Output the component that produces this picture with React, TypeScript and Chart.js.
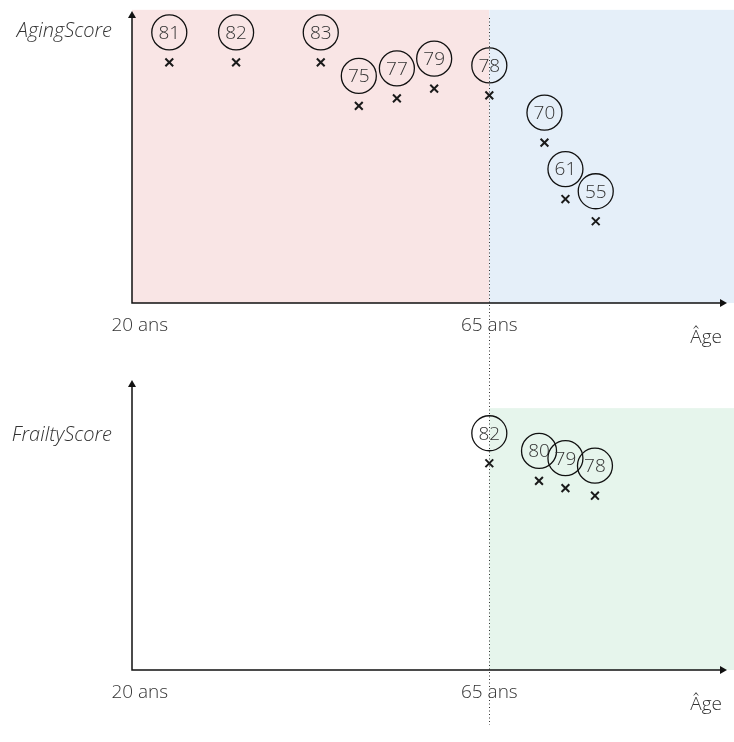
import React, { useEffect, useRef } from "react";
import { Chart, registerables } from "chart.js";

Chart.register(...registerables);

// ---- data ----
const X_MIN = 19;
const X_MAX = 96.5;
const xTickValues = [20, 65];
const xTickLabels = ["20 ans", "65 ans"];
const xAxisTitle = "Âge";
const thresholdAge = 65;

const agingAges = [23.8, 32.4, 43.3, 48.2, 53.1, 57.9, 65, 72.1, 74.8, 78.7];
const agingPositions = [82.4, 82.4, 82.4, 67.5, 70.1, 73.4, 71.1, 54.9, 35.6, 28.0];
const agingScores = [81, 82, 83, 75, 77, 79, 78, 70, 61, 55];

const frailtyAges = [65, 71.4, 74.8, 78.6];
const frailtyPositions = [71.3, 65.2, 62.7, 60.1];
const frailtyScores = [82, 80, 79, 78];

const PINK = "rgb(249,229,229)";
const BLUE = "rgb(229,239,249)";
const GREEN = "rgb(230,245,236)";

const FONT_FAMILY = "'Open Sans', 'DejaVu Sans', sans-serif";
const TEXT_COLOR = "#333";

type Region = { from: number; to: number | null; yFrom: number; yTo: number; color: string };

type Cfg = {
  yLabel: string;
  yLabelDy: number;
  regions: Region[];
  labels: number[];
  dotTopDy: number;
  dotBottom: number;
};

function makePlugin(cfg: Cfg) {
  return {
    id: "deco",
    beforeDatasetsDraw(chart: any) {
      const { ctx, chartArea: a, scales } = chart;
      const x = scales.x;
      const y = scales.y;
      ctx.save();
      // background regions
      cfg.regions.forEach((r) => {
        const x0 = x.getPixelForValue(r.from);
        const x1 = r.to == null ? chart.width : x.getPixelForValue(r.to);
        const y0 = y.getPixelForValue(r.yTo);
        const y1 = y.getPixelForValue(r.yFrom);
        ctx.fillStyle = r.color;
        ctx.fillRect(x0, y0, x1 - x0, y1 - y0);
      });
      // dotted threshold line
      const tx = Math.round(x.getPixelForValue(thresholdAge)) + 0.5;
      ctx.strokeStyle = "#333";
      ctx.lineWidth = 1;
      ctx.setLineDash([1, 2.5]);
      ctx.beginPath();
      ctx.moveTo(tx, a.top + cfg.dotTopDy);
      ctx.lineTo(tx, cfg.dotBottom);
      ctx.stroke();
      ctx.setLineDash([]);
      // axes
      ctx.strokeStyle = "#111";
      ctx.lineWidth = 1.5;
      ctx.beginPath();
      ctx.moveTo(a.left, a.bottom);
      ctx.lineTo(a.left, a.top + 6);
      ctx.moveTo(a.left - 0.75, a.bottom);
      ctx.lineTo(a.right - 13, a.bottom);
      ctx.stroke();
      ctx.fillStyle = "#111";
      ctx.beginPath();
      ctx.moveTo(a.left, a.top);
      ctx.lineTo(a.left - 4, a.top + 7);
      ctx.lineTo(a.left + 4, a.top + 7);
      ctx.closePath();
      ctx.fill();
      ctx.beginPath();
      ctx.moveTo(a.right - 7, a.bottom);
      ctx.lineTo(a.right - 14, a.bottom - 4);
      ctx.lineTo(a.right - 14, a.bottom + 4);
      ctx.closePath();
      ctx.fill();
      ctx.restore();
    },
    afterDatasetsDraw(chart: any) {
      const { ctx, chartArea: a, scales } = chart;
      const x = scales.x;
      ctx.save();
      // circled labels
      const meta = chart.getDatasetMeta(0);
      ctx.font = `300 19px ${FONT_FAMILY}`;
      ctx.textAlign = "center";
      ctx.textBaseline = "middle";
      meta.data.forEach((el: any, i: number) => {
        const cx = el.x;
        const cy = el.y - 30;
        ctx.strokeStyle = "#111";
        ctx.lineWidth = 1.3;
        ctx.beginPath();
        ctx.arc(cx, cy, 17.5, 0, Math.PI * 2);
        ctx.stroke();
        ctx.fillStyle = TEXT_COLOR;
        ctx.fillText(String(cfg.labels[i]), cx, cy + 1);
      });
      // x tick labels
      ctx.font = `300 19px ${FONT_FAMILY}`;
      ctx.fillStyle = TEXT_COLOR;
      xTickValues.forEach((v, i) => {
        ctx.textAlign = "center";
        ctx.fillText(xTickLabels[i], x.getPixelForValue(v), a.bottom + 23);
      });
      ctx.textAlign = "right";
      ctx.fillText(xAxisTitle, a.right - 12, a.bottom + 35);
      // y label
      ctx.font = `italic 300 20px ${FONT_FAMILY}`;
      ctx.textAlign = "right";
      ctx.fillText(cfg.yLabel, a.left - 20, a.top + cfg.yLabelDy);
      ctx.restore();
    },
  };
}

function ScoreChart(props: {
  ages: number[];
  positions: number[];
  cfg: Cfg;
  padTop: number;
  padBottom: number;
}) {
  const ref = useRef<HTMLCanvasElement | null>(null);
  useEffect(() => {
    if (!ref.current) return;
    const chart = new Chart(ref.current, {
      type: "scatter",
      data: {
        datasets: [
          {
            data: props.ages.map((a, i) => ({ x: a, y: props.positions[i] })),
            pointStyle: "crossRot",
            pointRadius: 5.5,
            pointBorderWidth: 2,
            borderColor: "#1a1a1a",
            backgroundColor: "#1a1a1a",
            showLine: false,
          } as any,
        ],
      },
      options: {
        responsive: false,
        animation: false,
        devicePixelRatio: 1,
        layout: {
          autoPadding: false,
          padding: { left: 132, right: 0, top: props.padTop, bottom: props.padBottom },
        },
        scales: {
          x: { type: "linear", min: X_MIN, max: X_MAX, display: false },
          y: { type: "linear", min: 0, max: 100, display: false },
        },
        plugins: { legend: { display: false }, tooltip: { enabled: false } },
        events: [],
      },
      plugins: [makePlugin(props.cfg)],
    } as any);
    return () => chart.destroy();
  }, []);
  return <canvas ref={ref} width={734} height={371} style={{ display: "block" }} />;
}

export default function App() {
  const topCfg: Cfg = {
    yLabel: "AgingScore",
    yLabelDy: 20,
    regions: [
      { from: X_MIN, to: thresholdAge, yFrom: 0, yTo: 100.4, color: PINK },
      { from: thresholdAge, to: null, yFrom: 0, yTo: 100.4, color: BLUE },
    ],
    labels: agingScores,
    dotTopDy: 7,
    dotBottom: 371,
  };
  const bottomCfg: Cfg = {
    yLabel: "FrailtyScore",
    yLabelDy: 55,
    regions: [{ from: thresholdAge, to: null, yFrom: 0, yTo: 90.3, color: GREEN }],
    labels: frailtyScores,
    dotTopDy: -9,
    dotBottom: 354,
  };
  return (
    <div style={{ position: "absolute", left: 0, top: 0, width: 734, height: 742, background: "#fff" }}>
      <ScoreChart ages={agingAges} positions={agingPositions} cfg={topCfg} padTop={11} padBottom={68} />
      <ScoreChart ages={frailtyAges} positions={frailtyPositions} cfg={bottomCfg} padTop={9} padBottom={72} />
    </div>
  );
}
